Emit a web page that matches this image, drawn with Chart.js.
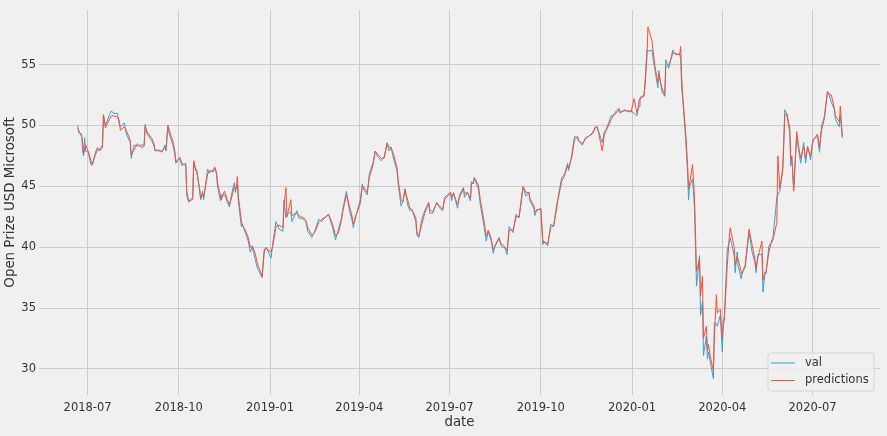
<!DOCTYPE html>
<html><head><meta charset="utf-8">
<script src="https://cdn.jsdelivr.net/npm/chart.js@4/dist/chart.umd.min.js"></script>
<style>html,body{margin:0;padding:0;background:#f0f0f0;}canvas{display:block;}</style>
</head><body>
<canvas id="c" width="887" height="436"></canvas>
<script>
const dates = [
'2018-06-21','2018-06-22','2018-06-25','2018-06-26','2018-06-27','2018-06-28','2018-06-29','2018-07-02','2018-07-03','2018-07-05',
'2018-07-06','2018-07-09','2018-07-11','2018-07-13','2018-07-16','2018-07-17','2018-07-19','2018-07-20','2018-07-23','2018-07-25',
'2018-07-27','2018-07-31','2018-08-02','2018-08-03','2018-08-07','2018-08-09','2018-08-13','2018-08-14','2018-08-17','2018-08-20',
'2018-08-24','2018-08-27','2018-08-28','2018-08-30','2018-09-04','2018-09-06','2018-09-07','2018-09-11','2018-09-14','2018-09-17',
'2018-09-18','2018-09-20','2018-09-21','2018-09-25','2018-09-27','2018-09-28','2018-10-02','2018-10-04','2018-10-08','2018-10-09',
'2018-10-11','2018-10-15','2018-10-16','2018-10-18','2018-10-19','2018-10-22','2018-10-23','2018-10-25','2018-10-26','2018-10-30',
'2018-11-01','2018-11-05','2018-11-06','2018-11-08','2018-11-09','2018-11-12','2018-11-13','2018-11-16','2018-11-19','2018-11-21',
'2018-11-23','2018-11-26','2018-11-27','2018-11-28','2018-11-29','2018-11-30','2018-12-03','2018-12-04','2018-12-07','2018-12-10',
'2018-12-12','2018-12-14','2018-12-17','2018-12-19','2018-12-24','2018-12-26','2018-12-27','2018-12-28',
'2019-01-02','2019-01-04','2019-01-07','2019-01-10','2019-01-14','2019-01-15','2019-01-17','2019-01-18','2019-01-22','2019-01-23',
'2019-01-28','2019-01-30','2019-02-04','2019-02-06','2019-02-08','2019-02-12','2019-02-15','2019-02-19','2019-02-22','2019-02-27',
'2019-03-01','2019-03-05','2019-03-08','2019-03-11','2019-03-14','2019-03-15','2019-03-19','2019-03-22','2019-03-25','2019-03-26',
'2019-03-28','2019-03-29','2019-04-02','2019-04-04','2019-04-05','2019-04-09','2019-04-11','2019-04-15','2019-04-17','2019-04-19',
'2019-04-23','2019-04-26','2019-04-29','2019-05-01','2019-05-03','2019-05-06','2019-05-09','2019-05-10','2019-05-13','2019-05-15',
'2019-05-17','2019-05-20','2019-05-22','2019-05-24','2019-05-28','2019-05-29','2019-05-31','2019-06-03','2019-06-06','2019-06-10',
'2019-06-11','2019-06-14','2019-06-18','2019-06-21','2019-06-24','2019-06-26','2019-07-02','2019-07-03','2019-07-05','2019-07-09',
'2019-07-11','2019-07-15','2019-07-16','2019-07-19','2019-07-22','2019-07-23','2019-07-25','2019-07-26','2019-07-30','2019-08-01',
'2019-08-05','2019-08-07','2019-08-09','2019-08-12','2019-08-14','2019-08-16','2019-08-20','2019-08-22','2019-08-26','2019-08-28',
'2019-08-30','2019-09-03','2019-09-06','2019-09-09','2019-09-11','2019-09-13','2019-09-16','2019-09-19','2019-09-20','2019-09-24',
'2019-09-25','2019-09-27','2019-10-01','2019-10-03','2019-10-04','2019-10-08','2019-10-11','2019-10-14','2019-10-17','2019-10-18',
'2019-10-22','2019-10-25','2019-10-28','2019-10-29','2019-11-01','2019-11-04','2019-11-07','2019-11-08','2019-11-12','2019-11-15',
'2019-11-18','2019-11-22','2019-11-25','2019-11-27','2019-12-02','2019-12-04','2019-12-06','2019-12-11','2019-12-13','2019-12-16',
'2019-12-19','2019-12-20','2019-12-24','2019-12-27','2019-12-31','2020-01-03','2020-01-06','2020-01-08','2020-01-09','2020-01-13',
'2020-01-14','2020-01-16','2020-01-17','2020-01-21','2020-01-23','2020-01-24','2020-01-27','2020-01-28','2020-01-31','2020-02-03',
'2020-02-04','2020-02-07','2020-02-10','2020-02-11','2020-02-14','2020-02-18','2020-02-19','2020-02-20','2020-02-21','2020-02-24',
'2020-02-26','2020-02-27','2020-02-28','2020-03-02','2020-03-04','2020-03-05','2020-03-06','2020-03-09','2020-03-10','2020-03-12',
'2020-03-13','2020-03-16','2020-03-17','2020-03-18','2020-03-20','2020-03-23','2020-03-24','2020-03-26','2020-03-27','2020-03-30',
'2020-04-01','2020-04-02','2020-04-03','2020-04-06','2020-04-08','2020-04-09','2020-04-13','2020-04-14','2020-04-16','2020-04-17',
'2020-04-20','2020-04-21','2020-04-23','2020-04-24','2020-04-28','2020-05-01','2020-05-04','2020-05-05','2020-05-07','2020-05-11',
'2020-05-12','2020-05-14','2020-05-15','2020-05-18','2020-05-21','2020-05-22','2020-05-26','2020-05-27','2020-05-29','2020-06-01',
'2020-06-02','2020-06-03','2020-06-05','2020-06-08','2020-06-09','2020-06-10','2020-06-12','2020-06-15','2020-06-17','2020-06-19',
'2020-06-22','2020-06-24','2020-06-26','2020-06-29','2020-07-01','2020-07-02','2020-07-06','2020-07-08','2020-07-10','2020-07-13',
'2020-07-16','2020-07-17','2020-07-20','2020-07-23','2020-07-24','2020-07-28','2020-07-29','2020-07-31'
];
const valValues = [
50.0,49.4,49.3,47.9,47.5,49.0,47.9,47.8,47.2,46.7,
46.9,47.6,48.0,48.0,48.4,50.8,50.0,50.2,50.9,51.2,
51.0,51.0,50.1,49.9,50.2,49.3,48.6,47.3,48.4,48.3,
48.4,48.4,50.1,49.3,48.7,48.3,47.9,48.0,47.8,48.4,
47.9,50.0,49.4,48.4,47.6,46.9,47.3,46.7,46.9,44.2,
43.7,44.1,46.9,46.3,46.4,44.6,43.9,44.6,43.9,46.4,
46.1,46.4,46.5,46.0,45.0,43.8,44.3,44.3,43.7,43.3,
44.3,45.3,44.5,45.0,45.2,43.8,41.7,41.9,41.2,40.5,
39.6,40.0,39.0,38.3,37.5,39.8,39.8,40.0,
39.1,40.5,42.1,41.5,41.3,43.9,42.4,42.7,42.9,42.1,
43.0,42.4,42.3,42.1,41.3,40.8,41.3,42.3,42.1,42.6,
42.7,41.6,40.6,41.5,42.4,43.0,44.6,43.0,42.1,41.6,
42.6,42.7,43.9,45.2,44.8,44.3,46.0,47.0,47.9,47.5,
47.1,47.4,48.5,47.9,48.2,47.1,46.3,45.3,43.4,43.8,
44.8,43.4,43.0,43.1,42.1,41.0,40.8,42.3,43.0,43.7,
42.8,42.8,43.7,43.2,43.0,44.1,44.5,43.8,44.5,43.2,
44.3,44.9,44.1,44.5,43.8,45.4,45.2,45.7,44.8,43.5,
41.6,40.5,41.3,40.5,39.5,40.2,40.8,40.1,39.9,39.4,
41.7,41.2,42.7,42.4,43.8,44.9,44.2,44.5,43.8,43.2,
42.6,43.1,43.1,40.2,40.5,40.1,41.9,41.7,43.5,43.9,
45.7,46.0,46.9,46.3,47.5,49.1,49.0,48.7,48.4,49.0,
49.1,49.4,49.9,49.8,48.6,49.5,49.7,50.8,50.8,51.2,
51.4,51.0,51.3,51.2,51.2,51.0,50.8,52.1,52.3,52.5,
53.5,56.2,56.1,56.2,55.1,54.6,53.1,54.5,52.8,52.4,
55.4,54.7,55.8,56.2,55.8,55.9,55.5,53.1,52.3,48.9,
46.1,43.9,45.0,45.6,43.1,39.8,36.8,39.3,34.4,35.5,
31.1,32.7,30.8,31.4,30.5,29.2,33.8,33.7,33.5,34.4,
31.4,34.0,34.2,39.8,40.4,40.8,39.3,37.9,39.6,38.5,
37.4,37.9,38.2,38.3,41.2,39.6,38.7,37.9,39.4,39.4,
36.3,37.9,37.8,40.1,40.4,40.7,44.1,44.3,44.6,46.7,
48.9,51.3,50.9,49.4,46.7,47.5,44.8,49.1,48.0,46.9,
48.6,46.9,48.3,47.2,48.7,48.9,49.1,47.8,49.9,50.8,
52.7,52.7,51.9,51.3,50.5,49.9,50.8,49.0
];
const predValues = [
49.8,49.6,49.1,48.6,47.7,48.0,48.4,47.8,47.5,46.9,
46.8,47.8,48.2,47.9,48.2,50.9,49.8,50.0,50.5,50.8,
50.8,50.7,50.4,49.6,49.9,49.6,48.8,47.6,48.0,48.5,
48.2,48.3,49.9,49.5,48.9,48.5,48.0,47.9,47.9,48.2,
48.0,50.0,49.7,48.7,47.9,47.0,47.4,46.9,46.7,44.6,
43.8,43.9,47.1,46.4,46.2,44.8,44.0,44.4,44.1,46.0,
46.3,46.2,46.6,46.2,45.3,44.2,43.9,44.6,43.9,43.5,
44.0,45.0,44.8,44.8,45.8,44.2,42.2,41.8,41.4,40.8,
40.0,40.1,39.5,38.7,37.6,39.5,39.9,39.9,
39.6,40.2,41.7,41.8,41.6,43.3,44.9,42.5,43.9,42.6,
42.8,42.6,42.4,42.2,41.6,41.0,41.2,42.0,42.3,42.5,
42.7,41.9,40.9,41.2,42.2,42.8,44.3,43.4,42.4,41.9,
42.3,42.7,43.6,45.0,45.0,44.5,45.7,46.8,47.9,47.7,
47.3,47.3,48.6,48.2,48.2,47.5,46.5,45.6,43.9,43.7,
44.7,43.8,43.2,43.1,42.4,41.3,40.9,41.9,42.8,43.6,
43.1,42.9,43.6,43.4,43.1,43.9,44.5,44.1,44.4,43.5,
44.1,44.8,44.4,44.5,44.0,45.2,45.3,45.7,45.1,43.9,
42.0,40.9,41.4,40.7,39.8,40.1,40.7,40.3,40.0,39.7,
41.4,41.4,42.5,42.5,43.5,45.0,44.5,44.5,44.0,43.4,
42.9,43.0,43.2,40.6,40.4,40.3,41.6,41.8,43.2,43.8,
45.4,45.9,46.7,46.5,47.3,48.8,49.1,48.8,48.5,48.9,
49.1,49.3,49.8,49.9,47.9,49.2,49.6,50.5,50.8,51.0,
51.3,51.1,51.2,51.2,51.1,52.2,51.0,51.6,52.2,52.4,
53.2,55.6,58.1,57.0,55.6,54.9,53.5,54.2,53.1,52.5,
54.8,55.0,55.6,56.0,55.9,55.8,56.5,54.0,52.5,49.5,
46.8,44.8,45.2,46.8,44.0,41.0,38.0,39.0,36.0,37.6,
32.5,33.5,31.5,32.0,31.0,29.8,32.5,36.1,34.6,34.9,
32.5,33.6,34.0,38.5,40.8,41.6,40.0,38.5,39.2,39.0,
38.0,37.8,38.3,38.5,41.5,40.2,39.0,38.2,39.2,40.5,
37.3,37.9,37.9,39.6,40.6,40.6,42.0,47.5,44.8,46.3,
48.5,50.8,51.0,49.8,47.3,47.5,44.6,49.5,48.2,47.3,
48.3,47.3,48.2,47.5,48.5,48.8,49.3,48.2,49.6,50.6,
52.8,52.6,52.5,51.4,50.8,50.3,51.6,49.1
];
const xTickLabels = ['2018-07','2018-10','2019-01','2019-04','2019-07','2019-10','2020-01','2020-04','2020-07'];
const yTickValues = [30,35,40,45,50,55];
const seriesNames = ['val','predictions'];
const xRange = ['2018-05-13','2020-09-07'];
const yRange = [27.85,59.5];

const toMs = s => { const p = s.split('-').map(Number); return Date.UTC(p[0], p[1]-1, p[2] || 1); };
const COLORS = ['#30a2da', '#fc4f30'];
const FONT = 'DejaVu Sans';
const TEXT = '#333333';

const bgPlugin = {
  id: 'bg',
  beforeDraw(chart) {
    const ctx = chart.ctx;
    ctx.save();
    ctx.fillStyle = '#f0f0f0';
    ctx.fillRect(0, 0, chart.width, chart.height);
    ctx.restore();
  }
};

const legendPlugin = {
  id: 'boxLegend',
  afterDraw(chart) {
    const ctx = chart.ctx;
    const x = 768, y = 353, w = 106, h = 38, r = 3;
    ctx.save();
    ctx.beginPath();
    ctx.moveTo(x + r, y);
    ctx.arcTo(x + w, y, x + w, y + h, r);
    ctx.arcTo(x + w, y + h, x, y + h, r);
    ctx.arcTo(x, y + h, x, y, r);
    ctx.arcTo(x, y, x + w, y, r);
    ctx.closePath();
    ctx.fillStyle = 'rgba(240,240,240,0.85)';
    ctx.fill();
    ctx.strokeStyle = '#d6d6d6';
    ctx.lineWidth = 1;
    ctx.stroke();
    ctx.font = '11.5px "' + FONT + '"';
    ctx.textBaseline = 'middle';
    ctx.textAlign = 'left';
    seriesNames.forEach((name, i) => {
      const ly = 363 + i * 17.5;
      ctx.strokeStyle = COLORS[i];
      ctx.lineWidth = 1;
      ctx.beginPath();
      ctx.moveTo(771, ly);
      ctx.lineTo(795, ly);
      ctx.stroke();
      ctx.fillStyle = TEXT;
      ctx.fillText(name, 805, ly);
    });
    ctx.restore();
  }
};

const valData = dates.map((d, i) => ({ x: toMs(d), y: valValues[i] }));
const predData = dates.map((d, i) => ({ x: toMs(d), y: predValues[i] }));

new Chart(document.getElementById('c'), {
  type: 'line',
  data: {
    datasets: [
      { label: seriesNames[0], data: valData, borderColor: COLORS[0], borderWidth: 1, pointRadius: 0, tension: 0, fill: false, order: 1 },
      { label: seriesNames[1], data: predData, borderColor: COLORS[1], borderWidth: 1, pointRadius: 0, tension: 0, fill: false, order: 0 }
    ]
  },
  options: {
    responsive: false,
    animation: false,
    devicePixelRatio: 1,
    layout: { padding: { top: 8, right: 7, left: 0, bottom: 0 } },
    plugins: { legend: { display: false }, tooltip: { enabled: false } },
    scales: {
      x: {
        type: 'linear',
        min: toMs(xRange[0]),
        max: toMs(xRange[1]),
        afterBuildTicks(scale) { scale.ticks = xTickLabels.map(l => ({ value: toMs(l) })); },
        afterFit(scale) { scale.height = 41; },
        ticks: {
          autoSkip: false, maxRotation: 0, padding: 6, color: TEXT,
          font: { family: FONT, size: 11.5 },
          callback: (v, i) => xTickLabels[i]
        },
        grid: { color: '#cbcbcb', lineWidth: 1, drawTicks: false, tickLength: 0 },
        border: { display: false },
        title: { display: true, text: 'date', color: TEXT, font: { family: FONT, size: 13.4 }, padding: { top: 0, bottom: 5 } }
      },
      y: {
        type: 'linear',
        min: yRange[0],
        max: yRange[1],
        afterBuildTicks(scale) { scale.ticks = yTickValues.map(v => ({ value: v })); },
        afterFit(scale) { scale.width = 39; },
        ticks: { padding: 3, color: TEXT, font: { family: FONT, size: 11.5 }, callback: v => String(v) },
        grid: { color: '#cbcbcb', lineWidth: 1, drawTicks: false, tickLength: 0 },
        border: { display: false },
        title: { display: true, text: 'Open Prize USD Microsoft', color: TEXT, font: { family: FONT, size: 13.4 }, padding: { top: 2, bottom: 0 } }
      }
    }
  },
  plugins: [bgPlugin, legendPlugin]
});
</script>
</body></html>
